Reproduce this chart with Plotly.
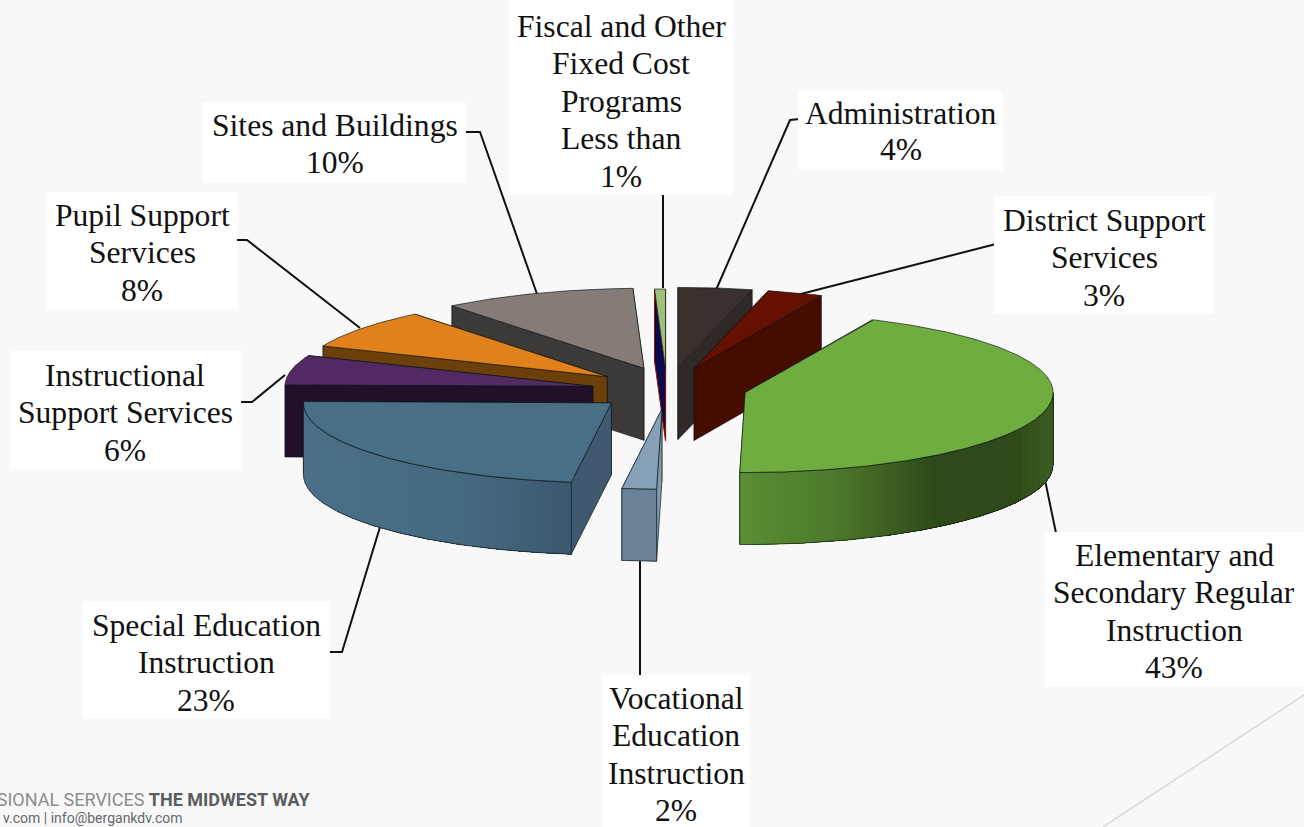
import numpy as np
import plotly.graph_objects as go

# ---------- data ----------
categories = ["Administration", "District Support Services",
              "Elementary and Secondary Regular Instruction",
              "Vocational Education Instruction", "Special Education Instruction",
              "Instructional Support Services", "Pupil Support Services",
              "Sites and Buildings", "Fiscal and Other Fixed Cost Programs"]
shares = [4, 3, 43, 1.8, 23.2, 6, 8, 10.4, 0.6]
label_lines = [
    ["Administration", "4%"],
    ["District Support", "Services", "3%"],
    ["Elementary and", "Secondary Regular", "Instruction", "43%"],
    ["Vocational", "Education", "Instruction", "2%"],
    ["Special Education", "Instruction", "23%"],
    ["Instructional", "Support Services", "6%"],
    ["Pupil Support", "Services", "8%"],
    ["Sites and Buildings", "10%"],
    ["Fiscal and Other", "Fixed Cost", "Programs", "Less than", "1%"],
]

# ---------- style / layout ----------
W, H = 1304, 827
CX, CY, RX, RY, DEPTH = 667, 388, 308, 80, 72
explode = [0.285, 0.26, 0.26, 0.29, 0.242, 0.245, 0.24, 0.21, 0.25]
lift = [2, 0, 0, -2, 2, 2, 0, -4, 1]
top_col = ["#3a302e", "#651000", "#70ad40", "#87a2b8", "#496f86",
           "#512a63", "#e0811c", "#857c78", "#9ac27a"]
side_col = ["#2f2a28", "#470c00", "#4a7a2a", "#7d9bb2", "#41596f",
            "#220f2a", "#6d3f0a", "#3b3a39", "#0a0a50"]
wall_stops = {
    2: ([0, .3, .62, .88, 1], ["#5b8e35", "#4d7a2c", "#2f4a1a", "#2f4a1a", "#3d5f22"]),
    3: ([0, 1], ["#6a8397", "#6a8397"]),
    4: ([0, .6, 1], ["#4b7088", "#466a80", "#3c586e"]),
}
draw_order = [0, 1, 8, 7, 6, 5, 2, 3, 4]
edge = "rgba(10,20,20,0.65)"
STRIP = 6

label_layout = {  # box x0,y0,x1,y1, text centre x, first line y, line step
    0: (798, 91, 1003, 170, 901, 113, 36.5),
    1: (994, 196, 1213, 314, 1104, 220, 37.5),
    2: (1045, 532, 1304, 687, 1174, 555, 37.5),
    3: (603, 675, 750, 827, 676, 698, 37.5),
    4: (83, 601, 329, 719, 206, 625, 37.5),
    5: (10, 351, 241, 469, 125, 375, 37.5),
    6: (47, 192, 237, 309, 142, 215, 37.5),
    7: (203, 102, 466, 183, 335, 125, 37),
    8: (509, 0, 733, 195, 621, 26, 37.5),
}
leaders = [
    [(800, 119), (790, 120), (716, 290)],
    [(996, 244), (793, 296)],
    [(1045, 480), (1056, 533), (1066, 534)],
    [(640, 558), (640, 676)],
    [(380, 527), (342, 652), (330, 652)],
    [(285, 375), (252, 402), (241, 402)],
    [(360, 328), (247, 240), (237, 240)],
    [(537, 294), (480, 132), (466, 132)],
    [(663, 194), (663, 288)],
]


def warp(theta):
    """Small angular skew seen in the tilted drawing."""
    return theta + np.interp(theta, [0, 25, 180, 340, 360], [0, -0.8, 1, 1, 0])


def hex_rgb(c):
    return np.array([int(c[i:i + 2], 16) for i in (1, 3, 5)], float)


def mix(stops, t):
    xs, cols = stops
    rgb = np.array([hex_rgb(c) for c in cols])
    return "rgb(%d,%d,%d)" % tuple(np.interp(t, xs, rgb[:, k]) for k in range(3))


def poly(fig, xs, ys, fill, line=edge, width=1):
    fig.add_trace(go.Scatter(x=list(xs), y=list(ys), mode="lines", fill="toself",
                             fillcolor=fill, line=dict(color=line, width=width),
                             hoverinfo="skip", showlegend=False))


fig = go.Figure()
cum = np.concatenate([[0], np.cumsum(shares)]) / np.sum(shares) * 360

for i in draw_order:
    a0, a1 = cum[i], cum[i + 1]
    mid = np.radians((a0 + a1) / 2)
    ax = CX + explode[i] * RX * np.sin(mid)
    ay = CY - explode[i] * RY * np.cos(mid) + lift[i]
    th = np.radians(warp(np.linspace(a0, a1, max(int((a1 - a0) * 4), 4))))
    px = ax + RX * np.sin(th)
    py = ay - RY * np.cos(th)

    # radial faces: hidden one first, facing one second
    faces = [(px[0], py[0], np.sin(th[0]) < 0), (px[-1], py[-1], np.sin(th[-1]) > 0)]
    faces.sort(key=lambda f: f[2])
    for fx, fy, _ in faces:
        poly(fig, [ax, fx, fx, ax, ax], [ay, fy, fy + DEPTH, ay + DEPTH, ay], side_col[i],
             line="#8a1500" if i == 8 else edge)

    # outer wall: facing part of the arc, shaded by overlapping strips painted left to right
    front = np.cos(th) < 0
    if front.sum() > 1:
        wx, wy = px[front], py[front]
        order = np.argsort(wx)
        wx, wy = wx[order], wy[order]
        stops = wall_stops.get(i, ([0, 1], [side_col[i], side_col[i]]))
        for g0 in np.arange(wx[0], wx[-1], STRIP):
            inner = wx[wx > g0]
            sx = np.concatenate([[g0], inner])
            sy = np.interp(sx, wx, wy)
            col = mix(stops, (g0 + STRIP / 2 - wx[0]) / (wx[-1] - wx[0]))
            poly(fig, list(sx) + list(sx[::-1]) + [sx[0]],
                 list(sy) + list(sy[::-1] + DEPTH) + [sy[0]], col, line=col, width=0)
        poly(fig, list(wx) + list(wx[::-1]) + [wx[0]],
             list(wy) + list(wy[::-1] + DEPTH) + [wy[0]], "rgba(0,0,0,0)")

    # top face
    poly(fig, [ax] + list(px) + [ax], [ay] + list(py) + [ay], top_col[i])

shapes = []
for pts in leaders:
    path = "M " + " L ".join(f"{x},{y}" for x, y in pts)
    shapes.append(dict(type="path", path=path, line=dict(color="#111111", width=2), layer="below"))
for i in range(len(categories)):
    x0, y0, x1, y1, *_ = label_layout[i]
    shapes.append(dict(type="rect", x0=x0, y0=y0, x1=x1, y1=y1, fillcolor="white",
                       line=dict(width=0), layer="below"))
shapes.append(dict(type="line", x0=1304, y0=695, x1=1103, y1=827,
                   line=dict(color="#d9d9d9", width=1.5), layer="below"))

annotations = []
for i, lines in enumerate(label_lines):
    *_, tx, ty, step = label_layout[i]
    for k, t in enumerate(lines):
        annotations.append(dict(x=tx, y=ty + k * step, text=t, showarrow=False,
                                xanchor="center", yanchor="middle",
                                font=dict(family="Liberation Serif", size=31.6, color="#111111")))
annotations.append(dict(x=312, y=799,
                        text="<span style='color:#8b8c8e'>SSIONAL SERVICES</span> <b>THE MIDWEST WAY</b>",
                        showarrow=False, xanchor="right", yanchor="middle",
                        font=dict(family="Roboto", size=18, color="#5a5c60")))
annotations.append(dict(x=185, y=818, text="v.com | info@bergankdv.com", showarrow=False,
                        xanchor="right", yanchor="middle",
                        font=dict(family="Roboto", size=14, color="#66686b")))

fig.update_layout(
    width=W, height=H, autosize=False,
    margin=dict(l=0, r=0, t=0, b=0),
    paper_bgcolor="#f8f8f8", plot_bgcolor="#f8f8f8",
    xaxis=dict(range=[0, W], visible=False, fixedrange=True),
    yaxis=dict(range=[H, 0], visible=False, fixedrange=True),
    shapes=shapes, annotations=annotations, showlegend=False,
)
fig.write_html("out.html", config={"displayModeBar": False},
               post_script="document.body.style.margin='0';document.body.style.overflow='hidden';")
